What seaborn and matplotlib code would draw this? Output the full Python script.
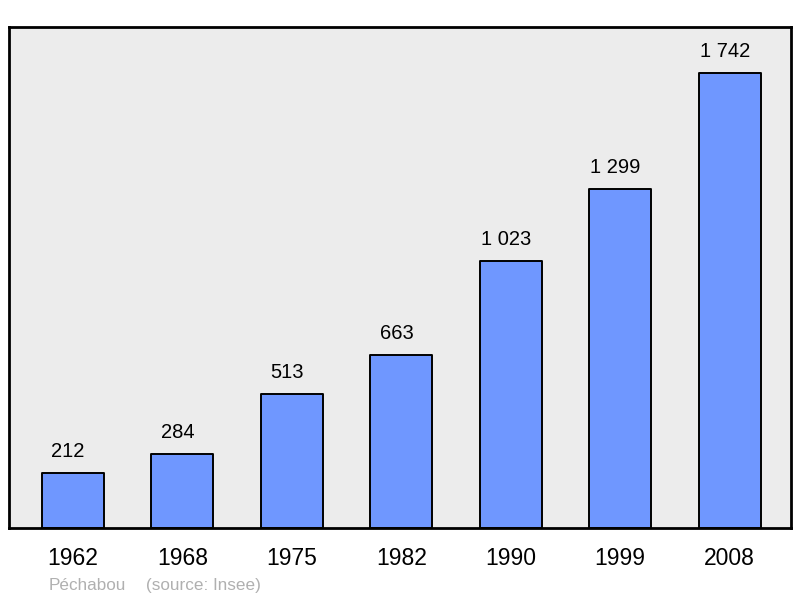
import matplotlib
matplotlib.use("Agg")
import matplotlib.pyplot as plt
import seaborn as sns
import pandas as pd

# population data
years = ["1962", "1968", "1975", "1982", "1990", "1999", "2008"]
population = [212, 284, 513, 663, 1023, 1299, 1742]
town = "Péchabou"
source = "(source: Insee)"

df = pd.DataFrame({"year": years, "pop": population})

sns.set_theme(style="white")
plt.rcParams["font.family"] = ["Liberation Sans", "DejaVu Sans"]

fig = plt.figure(figsize=(8, 5.98), dpi=100)
ax = fig.add_axes([9 / 800, 70 / 598, 782 / 800, 501 / 598])
ax.set_facecolor("#ececec")

sns.barplot(data=df, x="year", y="pop", color="#6f97ff", saturation=1,
            width=0.566, edgecolor="black", linewidth=1.4, ax=ax)
for p in ax.patches:
    p.set_joinstyle("round")

ax.set_xlim(-0.584, 6.56)
ax.set_ylim(0, 1918)

# value labels above bars, french thousands separator
for i, v in enumerate(population):
    label = f"{v:,}".replace(",", " ")
    ax.annotate(label, (i, v), xytext=(-3.5, 8.5), textcoords="offset points",
                ha="center", va="bottom", fontsize=14.5, color="black")

ax.set_yticks([])
ax.set_xlabel("")
ax.set_ylabel("")
ax.tick_params(axis="x", length=0, pad=14, labelsize=16.5, colors="black")
for s in ax.spines.values():
    s.set_color("black")
    s.set_linewidth(2)

# caption, both parts on the same baseline
fig.text(49 / 800, 1 - 590 / 598, town, fontsize=12.3,
         color="#b0b0b0", va="baseline", ha="left")
fig.text(146 / 800, 1 - 590 / 598, source, fontsize=12.3,
         color="#b0b0b0", va="baseline", ha="left")

fig.savefig("out.png", dpi=100, facecolor="white")
